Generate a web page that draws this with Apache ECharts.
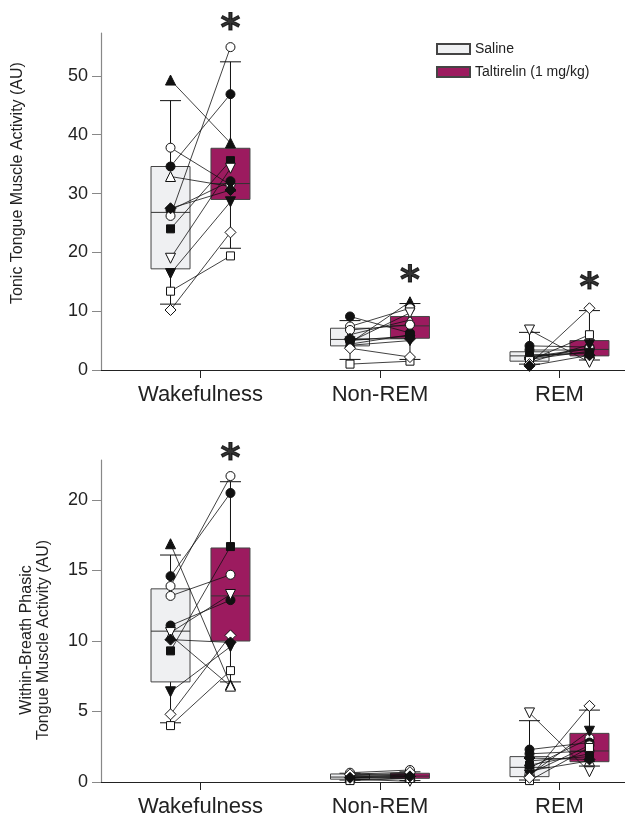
<!DOCTYPE html>
<html><head><meta charset="utf-8">
<script src="https://cdn.jsdelivr.net/npm/echarts@6/dist/echarts.min.js"></script>
<style>html,body{margin:0;padding:0;background:#fff}#c{width:625px;height:824px}</style>
</head><body><div id="c"></div>
<script>
// ---------- DATA ----------
const categories = ['Wakefulness', 'Non-REM', 'REM'];
const groupNames = ['Saline', 'Taltirelin (1 mg/kg)'];
const tonicTicks = [0, 10, 20, 30, 40, 50];
const phasicTicks = [0, 5, 10, 15, 20];

// subject order: FT, OC1, FC1, OT, FC2, OC2, FS, OIT, FIT, OS, OD, FD
const tonicSalWake = [49.3, 37.8, 34.6, 32.9, 27.2, 26.2, 24.0, 19.0, 16.4, 13.4, 10.2, 27.5];
const tonicTalWake = [38.6, 31.5, 46.9, 31.2, 32.1, 54.9, 35.6, 34.3, 28.6, 19.4, 23.4, 30.6];
const tonicSalNrem = [4.6, 7.4, 9.1, 6.0, 5.0, 6.8, 4.4, 4.8, 4.2, 1.0, 3.7, 5.3];
const tonicTalNrem = [11.6, 10.5, 6.3, 8.5, 5.8, 7.7, 6.0, 9.7, 5.0, 1.5, 2.2, 5.3];
const tonicSalRem = [2.6, 2.0, 4.1, 1.8, 3.4, 2.2, 2.3, 6.8, 1.3, 1.6, 1.0, 0.7];
const tonicTalRem = [2.8, 3.6, 3.9, 3.2, 3.4, 3.7, 3.0, 1.3, 4.3, 6.0, 10.5, 2.5];

const phasicSalWake = [16.9, 13.9, 14.6, 10.4, 11.1, 13.2, 9.3, 10.6, 6.4, 4.0, 4.8, 10.1];
const phasicTalWake = [6.9, 21.7, 20.5, 6.8, 12.9, 14.7, 16.7, 13.3, 9.6, 7.9, 10.4, 9.9];
const phasicSalNrem = [0.35, 0.66, 0.5, 0.3, 0.45, 0.4, 0.25, 0.2, 0.15, 0.1, 0.55, 0.3];
const phasicTalNrem = [0.5, 0.85, 0.6, 0.4, 0.55, 0.45, 0.35, 0.05, 0.3, 0.25, 0.7, 0.4];
const phasicSalRem = [1.5, 1.0, 2.3, 0.8, 2.0, 0.6, 1.2, 4.9, 0.5, 0.1, 0.3, 1.7];
const phasicTalRem = [1.8, 3.1, 2.8, 1.5, 2.2, 2.6, 2.0, 0.73, 3.6, 2.45, 5.4, 1.6];

// box stats per category: [low whisker, Q1, median, Q3, high whisker]
const tonicSalBox = [[11.2, 17.2, 26.8, 34.6, 45.8], [1.8, 4.1, 5.2, 7.1, 8.4], [1.0, 1.5, 2.4, 3.1, 6.4]];
const tonicTalBox = [[20.7, 29.0, 31.7, 37.7, 52.4], [1.8, 5.4, 7.5, 9.1, 11.3], [1.7, 2.4, 3.5, 5.0, 10.1]];
const phasicSalBox = [[4.2, 7.1, 10.7, 13.7, 16.1], [0.14, 0.2, 0.35, 0.57, 0.62], [0.14, 0.38, 1.04, 1.8, 4.35]];
const phasicTalBox = [[7.1, 10.0, 13.2, 16.6, 21.3], [0.1, 0.26, 0.42, 0.62, 0.72], [1.13, 1.44, 2.2, 3.45, 5.1]];

// significance marks (value position of '*' above Taltirelin), null = none
const tonicSig = [59.0, 16.2, 15.0];
const phasicSig = [23.3, null, null];

// ---------- STYLE ----------
const markerShape = ['triangle','circle','circle','triangle','circle','circle','rect','triangle','triangle','rect','diamond','diamond'];
const markerFilled = [true,false,true,false,true,false,true,false,true,false,false,true];
const markerRot = [0,0,0,0,0,0,0,180,180,0,0,0];
const markerSize = {triangle: 10, circle: 9, rect: 8, diamond: 11};
const salColor = '#eff0f2';
const talColor = '#9c1b5f';
const OFF = 0.167;
const FONT = 'Liberation Sans, Arial, sans-serif';

const tonic = {sal:[tonicSalWake,tonicSalNrem,tonicSalRem], tal:[tonicTalWake,tonicTalNrem,tonicTalRem], salBox:tonicSalBox, talBox:tonicTalBox, sig:tonicSig};
const phasic = {sal:[phasicSalWake,phasicSalNrem,phasicSalRem], tal:[phasicTalWake,phasicTalNrem,phasicTalRem], salBox:phasicSalBox, talBox:phasicTalBox, sig:phasicSig};

const chart = echarts.init(document.getElementById('c'), null, {renderer:'canvas'});

function boxRender(params, api){
  const x = api.value(0);
  const p = [1,2,3,4,5].map(i => api.coord([x, api.value(i)]));
  const cx = p[0][0];
  const hw = 19.5, cw = 10.5;
  const ls = {stroke:'#111', lineWidth:1};
  return {type:'group', children:[
    {type:'line', shape:{x1:cx,y1:p[0][1],x2:cx,y2:p[1][1]}, style:ls},
    {type:'line', shape:{x1:cx,y1:p[3][1],x2:cx,y2:p[4][1]}, style:ls},
    {type:'line', shape:{x1:cx-cw,y1:p[0][1],x2:cx+cw,y2:p[0][1]}, style:ls},
    {type:'line', shape:{x1:cx-cw,y1:p[4][1],x2:cx+cw,y2:p[4][1]}, style:ls},
    {type:'rect', shape:{x:cx-hw,y:p[3][1],width:2*hw,height:p[1][1]-p[3][1]}, style:{fill:api.visual('color'), stroke:'#444', lineWidth:1}},
    {type:'line', shape:{x1:cx-hw,y1:p[2][1],x2:cx+hw,y2:p[2][1]}, style:{stroke:'#333', lineWidth:1}}
  ]};
}
function pairRender(params, api){
  const a = api.coord([api.value(0), api.value(1)]);
  const b = api.coord([api.value(2), api.value(3)]);
  return {type:'line', shape:{x1:a[0],y1:a[1],x2:b[0],y2:b[1]}, style:{stroke:'#111', lineWidth:0.8}};
}

const series = [];
[tonic, phasic].forEach((d, gi) => {
  const base = {xAxisIndex: gi, yAxisIndex: gi};
  series.push(Object.assign({type:'custom', name:groupNames[0], renderItem:boxRender, z:2,
    itemStyle:{color:salColor, borderColor:'#444', borderWidth:1},
    encode:{x:0, y:[1,2,3,4,5]},
    data: d.salBox.map((b, c) => [c+1-OFF].concat(b))}, base));
  series.push(Object.assign({type:'custom', name:groupNames[1], renderItem:boxRender, z:2,
    itemStyle:{color:talColor, borderColor:'#444', borderWidth:1},
    encode:{x:0, y:[1,2,3,4,5]},
    data: d.talBox.map((b, c) => [c+1+OFF].concat(b))}, base));
  const pairs = [];
  for (let c = 0; c < 3; c++) for (let s = 0; s < markerShape.length; s++)
    pairs.push([c+1-OFF, d.sal[c][s], c+1+OFF, d.tal[c][s]]);
  series.push(Object.assign({type:'custom', name:'pairs', renderItem:pairRender, z:3,
    encode:{x:[0,2], y:[1,3]}, data:pairs, silent:true}, base));
  for (let s = 0; s < markerShape.length; s++){
    const pts = [];
    for (let c = 0; c < 3; c++){ pts.push([c+1-OFF, d.sal[c][s]]); pts.push([c+1+OFF, d.tal[c][s]]); }
    series.push(Object.assign({type:'scatter', name:'subject'+(s+1), z:4,
      symbol: markerShape[s], symbolSize: markerSize[markerShape[s]], symbolRotate: markerRot[s],
      itemStyle:{color: markerFilled[s] ? '#111' : '#fff', borderColor:'#111', borderWidth:1, opacity:1},
      data: pts, clip:false}, base));
  }
  const sig = [];
  d.sig.forEach((v, c) => { if (v !== null) sig.push([c+1+OFF, v]); });
  series.push(Object.assign({type:'scatter', name:'sig', z:5, symbolSize:1, clip:false, silent:true,
    itemStyle:{color:'rgba(0,0,0,0)'},
    label:{show:true, position:'inside', formatter:'*', fontSize:38, fontWeight:'bold', color:'#000',
      textBorderColor:'#000', textBorderWidth:1, fontFamily:'DejaVu Sans, sans-serif', offset:[0,7]},
    data: sig}, base));
});

const XMIN = 0.4457, XMAX = 3.365;
function xAxis(gi){
  return {type:'value', gridIndex:gi, min:XMIN, max:XMAX,
    axisLine:{show:true, onZero:false, lineStyle:{color:'#222', width:1.2}},
    axisTick:{show:true, customValues:[1,2,3], length:8, lineStyle:{color:'#222'}},
    axisLabel:{show:true, customValues:[1,2,3], formatter: v => categories[Math.round(v)-1], fontSize:22, color:'#222', fontFamily:FONT, margin:14},
    splitLine:{show:false}};
}
function yAxis(gi, max, ticks){
  return {type:'value', gridIndex:gi, min:0, max:max,
    axisLine:{show:true, lineStyle:{color:'#888', width:1.2}},
    axisTick:{show:true, customValues:ticks, length:9, lineStyle:{color:'#888'}},
    axisLabel:{show:true, customValues:ticks, fontSize:18, color:'#222', fontFamily:FONT, margin:13},
    splitLine:{show:false}};
}

chart.setOption({
  animation:false,
  backgroundColor:'#fff',
  grid:[{left:101, top:33, width:524, height:337}, {left:101, top:460, width:524, height:322}],
  xAxis:[xAxis(0), xAxis(1)],
  yAxis:[yAxis(0, 57.3, tonicTicks), yAxis(1, 22.84, phasicTicks)],
  legend:{data:groupNames, orient:'vertical', left:436, top:42, padding:0, itemWidth:33, itemHeight:10, itemGap:9,
    icon:'rect', textStyle:{fontSize:14, color:'#222', fontFamily:FONT}, selectedMode:false},
  graphic:[
    {type:'text', x:18, y:183, rotation:Math.PI/2, style:{text:'Tonic Tongue Muscle Activity (AU)', font:'16px '+FONT, fill:'#222', textAlign:'center', textVerticalAlign:'middle'}},
    {type:'text', x:35, y:640, rotation:Math.PI/2, style:{text:'Within-Breath Phasic\nTongue Muscle Activity (AU)', font:'16px '+FONT, fill:'#222', textAlign:'center', textVerticalAlign:'middle', lineHeight:17}}
  ],
  series: series
});
</script></body></html>
